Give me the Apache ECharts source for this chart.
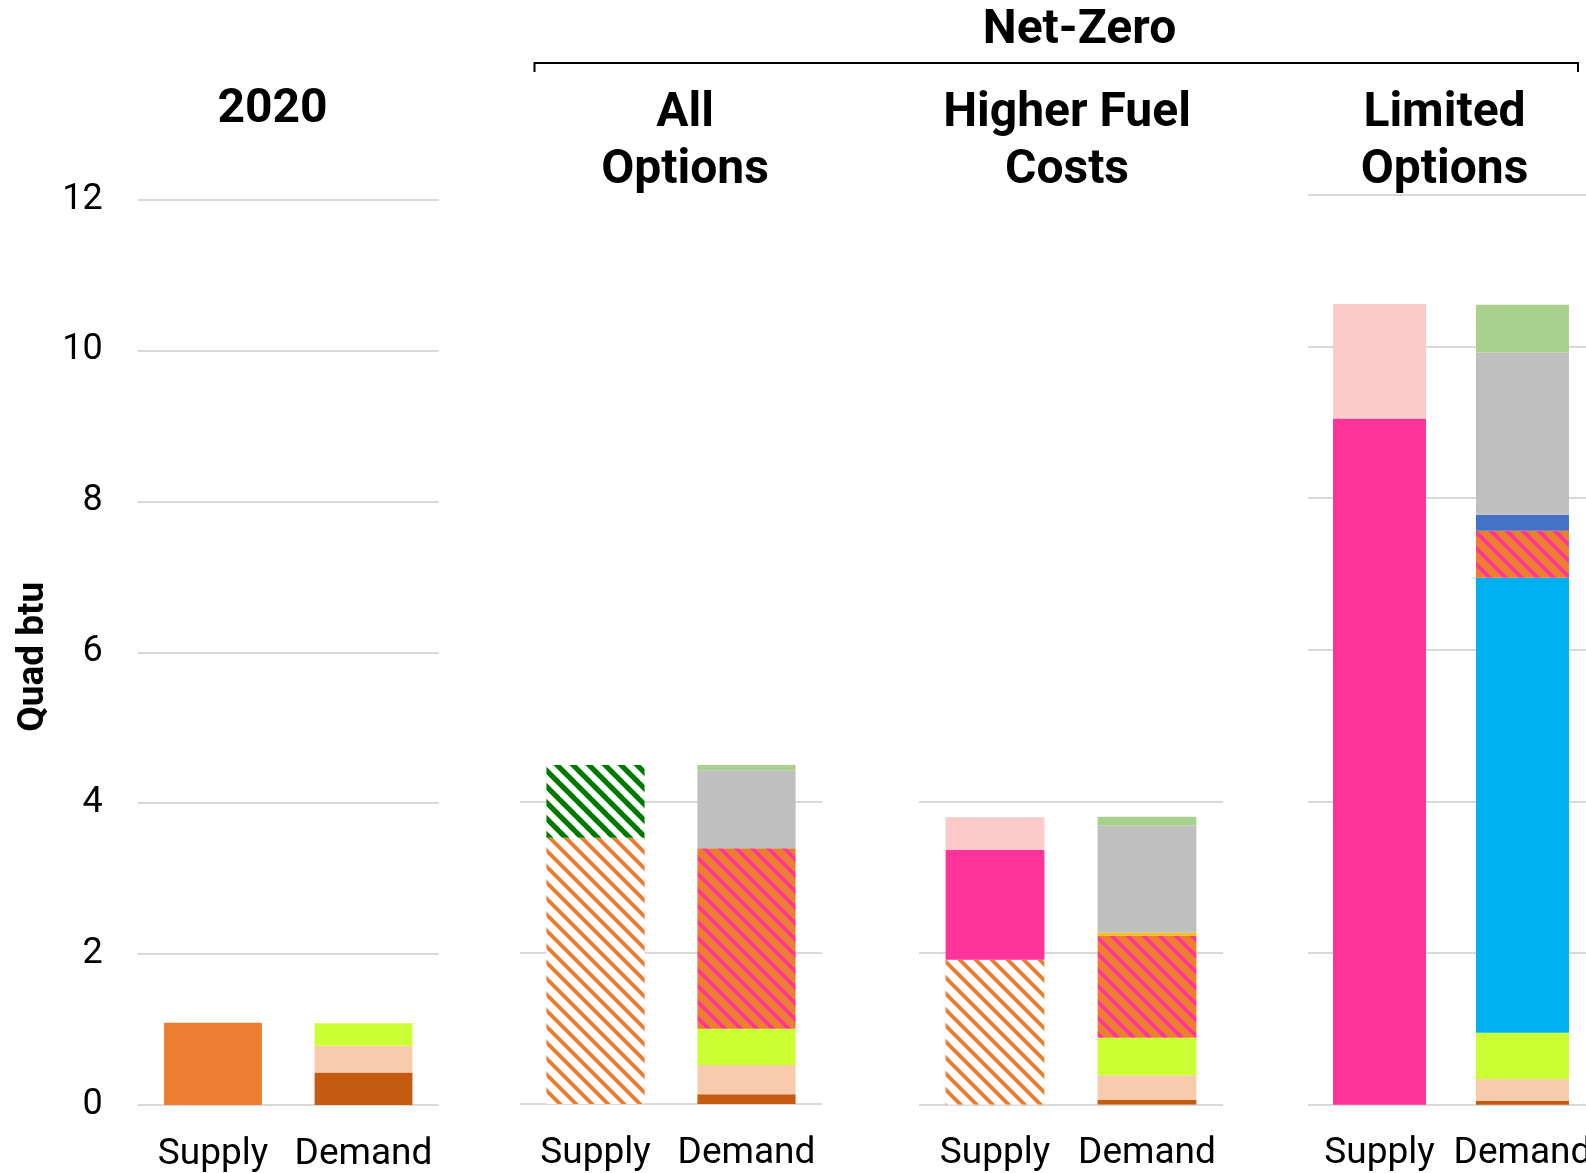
<!DOCTYPE html>
<html>
<head>
<meta charset="utf-8">
<script src="https://cdn.jsdelivr.net/npm/echarts@6/dist/echarts.min.js"></script>
<style>
  html, body { margin: 0; padding: 0; background: #fff; }
  #chart { width: 1586px; height: 1173px; }
</style>
</head>
<body>
<div id="chart"></div>
<script>
// Categories and titles
const categories = ['Supply', 'Demand'];
const panelTitles = ['2020', 'All\nOptions', 'Higher Fuel\nCosts', 'Limited\nOptions'];
const groupTitle = 'Net-Zero';
const axisTitle = 'Quad btu';
const yMin = 0, yMax = 12, yStep = 2;

// Values per panel: [2020, All Options, Higher Fuel Costs, Limited Options]
// Supply stack, bottom to top
const supplyOrange      = [1.09, 0,    0,    0];
const supplyOrangeHatch = [0,    3.52, 1.91, 0];
const supplyGreenHatch  = [0,    0.96, 0,    0];
const supplyPink        = [0,    0,    1.45, 9.05];
const supplyLightPink   = [0,    0,    0.43, 1.51];
// Demand stack, bottom to top
const demandBrown      = [0.43,  0.13,  0.06,  0.05];
const demandPeach      = [0.355, 0.385, 0.325, 0.29];
const demandLime       = [0.30,  0.48,  0.495, 0.61];
const demandCyan       = [0,     0,     0,     6.0];
const demandBlendHatch = [0,     2.385, 1.35,  0.62];
const demandYellow     = [0,     0,     0.035, 0];
const demandBlue       = [0,     0,     0,     0.21];
const demandGray       = [0,     1.03,  1.415, 2.14];
const demandLightGreen = [0,     0.07,  0.115, 0.63];

// Diagonal stripe fill ("\" direction)
function stripes(bg, fg, lw) {
  const size = 16;
  const c = document.createElement('canvas');
  c.width = size; c.height = size;
  const g = c.getContext('2d');
  g.fillStyle = bg; g.fillRect(0, 0, size, size);
  g.strokeStyle = fg; g.lineWidth = lw;
  for (const o of [-size, 0, size]) {
    g.beginPath(); g.moveTo(o - 2, -2); g.lineTo(o + size + 2, size + 2); g.stroke();
  }
  return { image: c, repeat: 'repeat' };
}

const segments = [
  { name: 'Supply orange', side: 0, values: supplyOrange, color: '#ED7D31' },
  { name: 'Supply orange hatch', side: 0, values: supplyOrangeHatch, color: stripes('#FFFFFF', '#ED7D31', 4.0) },
  { name: 'Supply green hatch', side: 0, values: supplyGreenHatch, color: stripes('#FFFFFF', '#007A00', 5.2) },
  { name: 'Supply pink', side: 0, values: supplyPink, color: '#FF3399' },
  { name: 'Supply light pink', side: 0, values: supplyLightPink, color: '#FDCACA' },
  { name: 'Demand brown', side: 1, values: demandBrown, color: '#C55A11' },
  { name: 'Demand peach', side: 1, values: demandPeach, color: '#F8CBAD' },
  { name: 'Demand lime', side: 1, values: demandLime, color: '#CCFF33' },
  { name: 'Demand cyan', side: 1, values: demandCyan, color: '#00B0F0' },
  { name: 'Demand blend hatch', side: 1, values: demandBlendHatch, color: stripes('#ED7D31', '#FF3399', 3.6) },
  { name: 'Demand yellow', side: 1, values: demandYellow, color: '#FFC000' },
  { name: 'Demand blue', side: 1, values: demandBlue, color: '#4472C4' },
  { name: 'Demand gray', side: 1, values: demandGray, color: '#BFBFBF' },
  { name: 'Demand light green', side: 1, values: demandLightGreen, color: '#A9D18E' }
];

// Panel frames (the last one runs past the right edge)
const grids = [
  { left: 137.75, width: 301, top: 199.5, height: 905.5 },
  { left: 520, width: 302, top: 196, height: 908 },
  { left: 919, width: 304, top: 195, height: 909.5 },
  { left: 1308, width: 286, top: 194.7, height: 910 }
].map(g => Object.assign(g, { outerBoundsMode: 'none', containLabel: false }));
const titleCenters = [272.5, 685, 1067, 1444.5];

const font = 'Roboto';
const gridColor = '#D9D9D9';

const xAxes = grids.map((g, i) => ({
  type: 'category', gridIndex: i, data: categories,
  axisLine: { show: false }, axisTick: { show: false },
  axisLabel: { interval: 0, fontSize: 37, fontFamily: font, color: '#000', margin: 31 }
}));

const yAxes = grids.map((g, i) => ({
  type: 'value', gridIndex: i, min: yMin, max: yMax, interval: yStep,
  axisLine: { show: false }, axisTick: { show: false },
  axisLabel: { show: i === 0, fontSize: 36, fontFamily: font, color: '#000', margin: 35, padding: [5, 0, 0, 0] },
  splitLine: { show: true, lineStyle: { color: gridColor, width: 2 } },
  name: i === 0 ? axisTitle : '',
  nameLocation: 'middle', nameRotate: 90, nameGap: 86,
  nameTextStyle: { fontSize: 37, fontWeight: 'bold', fontFamily: font, color: '#000', padding: [0, 9, 0, 0] }
}));

const series = [];
grids.forEach((g, p) => {
  segments.forEach(s => {
    const v = s.values[p];
    if (!v) return;
    const data = s.side === 0 ? [v, '-'] : ['-', v];
    series.push({
      type: 'bar', name: s.name, xAxisIndex: p, yAxisIndex: p,
      stack: 'panel' + p, barWidth: '65%',
      itemStyle: { color: s.color },
      data: data, animation: false, silent: true
    });
  });
});

const titles = panelTitles.map((t, i) => ({
  text: t, left: titleCenters[i], top: i === 0 ? 81.5 : 85.5, padding: 0, textAlign: 'center',
  textStyle: { fontSize: 48, fontWeight: 'bold', fontFamily: font, color: '#000', lineHeight: 57 }
}));
titles.push({
  text: groupTitle, left: 1079.5, top: 6, padding: 0, textAlign: 'center',
  textStyle: { fontSize: 48, fontWeight: 'bold', fontFamily: font, color: '#000', lineHeight: 50 }
});

const chart = echarts.init(document.getElementById('chart'), null, { renderer: 'canvas' });
chart.setOption({
  backgroundColor: '#fff',
  animation: false,
  title: titles,
  grid: grids,
  xAxis: xAxes,
  yAxis: yAxes,
  series: series,
  graphic: [
    // upper gridlines are not shown in the two middle panels
    { type: 'rect', z: 1, silent: true, shape: { x: 512, y: 186, width: 318, height: 540 }, style: { fill: '#fff' } },
    { type: 'rect', z: 1, silent: true, shape: { x: 911, y: 186, width: 320, height: 540 }, style: { fill: '#fff' } },
    // bracket grouping the net-zero scenarios
    { type: 'polyline', z: 10, silent: true,
      shape: { points: [[534.5, 72], [534.5, 63], [1578, 63], [1578, 72]] },
      style: { stroke: '#000', lineWidth: 2, fill: null } }
  ]
});
</script>
</body>
</html>
